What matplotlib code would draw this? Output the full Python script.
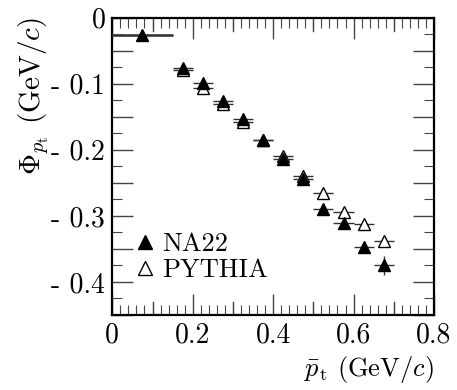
import matplotlib
matplotlib.use('Agg')
import matplotlib.pyplot as plt
from matplotlib.lines import Line2D
from matplotlib.ticker import MultipleLocator, FixedLocator, FixedFormatter
import numpy as np

plt.rcParams['font.family'] = 'serif'
plt.rcParams['font.serif'] = ['cmr10']
plt.rcParams['mathtext.fontset'] = 'cm'
plt.rcParams['axes.unicode_minus'] = False

# data
pt_mean = [0.075, 0.175, 0.225, 0.275, 0.325, 0.375, 0.425, 0.475, 0.525, 0.575, 0.625, 0.675]
pt_err = [0.075, 0.025, 0.025, 0.025, 0.025, 0.025, 0.025, 0.025, 0.025, 0.025, 0.025, 0.025]
phi_na22 = [-0.026, -0.076, -0.099, -0.126, -0.154, -0.185, -0.214, -0.244, -0.290, -0.311, -0.347, -0.375]
phi_na22_err = [0.004, 0.004, 0.004, 0.004, 0.004, 0.004, 0.004, 0.005, 0.006, 0.007, 0.008, 0.015]
phi_pythia = [-0.026, -0.080, -0.106, -0.131, -0.158, -0.186, -0.210, -0.240, -0.265, -0.294, -0.313, -0.338]

y_ticks = [0, -0.1, -0.2, -0.3, -0.4]
y_tick_labels = ['0', '- 0.1', '- 0.2', '- 0.3', '- 0.4']
x_ticks = [0, 0.2, 0.4, 0.6, 0.8]
x_tick_labels = ['0', '0.2', '0.4', '0.6', '0.8']

fig = plt.figure(figsize=(4.57, 3.90), dpi=100)
ax = fig.add_axes([0.2457, 0.1923, 0.704, 0.7628])

# PYTHIA first so NA22 sits on top
ax.errorbar(pt_mean[1:], phi_pythia[1:], xerr=pt_err[1:], fmt='^', ms=9,
            mfc='white', mec='black', mew=1.0, ecolor='#333333', elinewidth=1.0,
            capsize=0, zorder=3)
ax.errorbar(pt_mean, phi_na22, xerr=pt_err, yerr=phi_na22_err, fmt='^', ms=9,
            mfc='black', mec='black', ecolor='#333333', elinewidth=1.0,
            capsize=0, zorder=4)
# first bin drawn with a heavier bar
ax.errorbar(pt_mean[:1], phi_na22[:1], xerr=pt_err[:1], fmt='none',
            ecolor='#555555', elinewidth=2.0, capsize=0, zorder=3)

ax.set_xlim(0, 0.8)
ax.set_ylim(-0.45, 0)

ax.set_xticks(x_ticks, labels=x_tick_labels)
ax.xaxis.set_minor_locator(MultipleLocator(0.02))

major_y = np.arange(0, -0.451, -0.05)
ax.yaxis.set_major_locator(FixedLocator(major_y))
ax.yaxis.set_major_formatter(FixedFormatter(
    [y_tick_labels[y_ticks.index(round(v, 2))] if round(v, 2) in y_ticks else ''
     for v in major_y]))
ax.yaxis.set_minor_locator(MultipleLocator(0.025))

# long ticks at the odd tenths on x
for v in np.arange(0.1, 0.8, 0.2):
    ax.axvline(v, ymin=0, ymax=0.045, color='#444444', lw=1.0)
    ax.axvline(v, ymin=0.955, ymax=1, color='#444444', lw=1.0)

ax.tick_params(which='both', direction='in', top=True, right=True,
               labelsize=20, color='#444444')
ax.tick_params(which='major', length=15, width=1.0, pad=5)
ax.tick_params(which='minor', length=7, width=0.8)
for s in ax.spines.values():
    s.set_linewidth(1.6)

ax.set_xlabel(r'$\bar{p}_{\rm t}$ (GeV/$c$)', fontsize=19, loc='right', labelpad=4)
ax.set_ylabel(r'$\Phi_{p_{\rm t}}$ (GeV/$c$)', fontsize=21, loc='top', labelpad=0)

handles = [Line2D([], [], ls='none', marker='^', ms=10, mfc='black', mec='black'),
           Line2D([], [], ls='none', marker='^', ms=10, mfc='white', mec='black')]
ax.legend(handles, ['NA22', 'PYTHIA'], loc='lower left',
          bbox_to_anchor=(-0.02, 0.03), frameon=False, fontsize=19,
          handletextpad=0.05, handlelength=1.2, labelspacing=0.1)

fig.savefig('out.png', dpi=100)
plt.close()
